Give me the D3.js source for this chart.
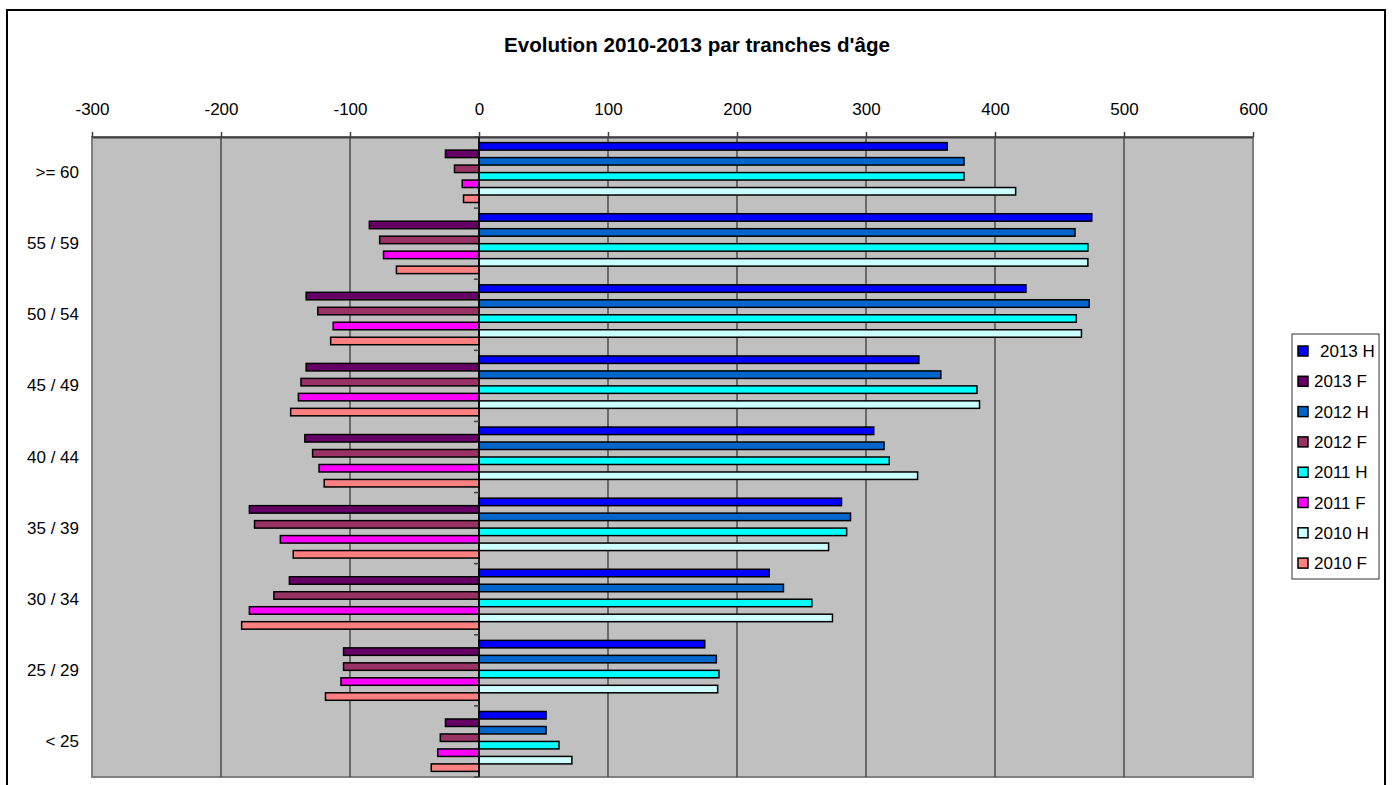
<!DOCTYPE html>
<html>
<head>
  <meta charset="utf-8">
  <title>Evolution 2010-2013 par tranches d'âge</title>
  <script src="https://cdn.jsdelivr.net/npm/d3@7/dist/d3.min.js"></script>
  <style>
    html, body { margin: 0; padding: 0; background: #fff; }
    svg { display: block; font-family: "Liberation Sans", Arial, sans-serif; }
    .title { font-size: 20.6px; font-weight: bold; fill: #000; }
    .axis text { font-size: 17px; fill: #000; }
    .cat { font-size: 17px; fill: #000; }
    .legend text { font-size: 17px; fill: #000; }
  </style>
</head>
<body>
<script>
  // age groups, top to bottom
  var categories = ['>= 60', '55 / 59', '50 / 54', '45 / 49', '40 / 44', '35 / 39', '30 / 34', '25 / 29', '< 25'];

  var seriesNames = ['2013 H', '2013 F', '2012 H', '2012 F', '2011 H', '2011 F', '2010 H', '2010 F'];
  var seriesColors = ['#0000FF', '#660066', '#0066CC', '#993366', '#00FFFF', '#FF00FF', '#CCFFFF', '#FF8080'];

  // values per age group (same order as categories); F values are negative
  var h2013 = [363, 475, 424, 341, 306, 281, 225, 175, 52];
  var f2013 = [-26, -85, -134, -134, -135, -178, -147, -105, -26];
  var h2012 = [376, 462, 473, 358, 314, 288, 236, 184, 52];
  var f2012 = [-19, -77, -125, -138, -129, -174, -159, -105, -30];
  var h2011 = [376, 472, 463, 386, 318, 285, 258, 186, 62];
  var f2011 = [-13, -74, -113, -140, -124, -154, -178, -107, -32];
  var h2010 = [416, 472, 467, 388, 340, 271, 274, 185, 72];
  var f2010 = [-12, -64, -115, -146, -120, -144, -184, -119, -37];

  var xTicks = [-300, -200, -100, 0, 100, 200, 300, 400, 500, 600];

  var seriesValues = [h2013, f2013, h2012, f2012, h2011, f2011, h2010, f2010];

  var width = 1392, height = 785;
  var plot = { left: 92, right: 1253, top: 137, bottom: 777 };

  var svg = d3.select('body').append('svg')
    .attr('width', width).attr('height', height);

  // chart frame (bottom edge falls outside the window)
  svg.append('rect')
    .attr('x', 7).attr('y', 10)
    .attr('width', 1378).attr('height', 800)
    .attr('fill', '#fff').attr('stroke', '#000').attr('stroke-width', 2);

  svg.append('text')
    .attr('class', 'title')
    .attr('x', 697).attr('y', 52)
    .attr('text-anchor', 'middle')
    .text("Evolution 2010-2013 par tranches d'âge");

  var x = d3.scaleLinear()
    .domain([xTicks[0], xTicks[xTicks.length - 1]])
    .range([plot.left, plot.right]);

  var y = d3.scaleBand()
    .domain(categories)
    .range([plot.top, plot.bottom])
    .padding(0);

  var ySub = d3.scaleBand()
    .domain(seriesNames)
    .range([0, y.bandwidth()])
    .paddingInner(0)
    .paddingOuter(0.75);

  // plot background
  svg.append('rect')
    .attr('x', plot.left).attr('y', plot.top)
    .attr('width', plot.right - plot.left).attr('height', plot.bottom - plot.top)
    .attr('fill', '#C0C0C0').attr('stroke', '#808080').attr('stroke-width', 2);

  // vertical gridlines
  svg.append('g').selectAll('line')
    .data(xTicks.slice(1, -1)).enter().append('line')
      .attr('x1', function (d) { return x(d); })
      .attr('x2', function (d) { return x(d); })
      .attr('y1', plot.top).attr('y2', plot.bottom)
      .attr('stroke', '#3a3a3a').attr('stroke-width', 1.3);

  // value axis on top (plain hyphen for negatives, like the original)
  var xAxis = svg.append('g')
    .attr('class', 'axis')
    .attr('transform', 'translate(0,' + plot.top + ')')
    .call(d3.axisTop(x).tickValues(xTicks)
      .tickFormat(function (d) { return String(d); })
      .tickSize(5).tickPadding(17).tickSizeOuter(0));
  xAxis.select('.domain').attr('stroke', '#404040').attr('stroke-width', 2);
  xAxis.selectAll('.tick line').attr('stroke', '#404040').attr('stroke-width', 1.5);
  xAxis.selectAll('.tick text')
    .attr('font-family', '"Liberation Sans", Arial, sans-serif')
    .attr('font-size', 17).attr('dy', 0);

  // bars
  var rows = [];
  categories.forEach(function (c, ci) {
    seriesNames.forEach(function (s, si) {
      rows.push({ cat: c, series: s, value: seriesValues[si][ci], color: seriesColors[si] });
    });
  });

  svg.append('g').selectAll('rect')
    .data(rows).enter().append('rect')
      .attr('x', function (d) { return x(Math.min(0, d.value)); })
      .attr('y', function (d) { return y(d.cat) + ySub(d.series); })
      .attr('width', function (d) { return Math.abs(x(d.value) - x(0)); })
      .attr('height', ySub.bandwidth())
      .attr('fill', function (d) { return d.color; })
      .attr('stroke', '#000').attr('stroke-width', 1.5);

  // category axis at zero
  var catAxis = svg.append('g');
  catAxis.append('line')
    .attr('x1', x(0)).attr('x2', x(0))
    .attr('y1', plot.top).attr('y2', plot.bottom)
    .attr('stroke', '#000').attr('stroke-width', 1.5);
  catAxis.selectAll('.ctick')
    .data(categories.concat(['__end'])).enter().append('line')
      .attr('class', 'ctick')
      .attr('x1', x(0) - 5).attr('x2', x(0))
      .attr('y1', function (d) { return d === '__end' ? plot.bottom : y(d); })
      .attr('y2', function (d) { return d === '__end' ? plot.bottom : y(d); })
      .attr('stroke', '#404040').attr('stroke-width', 1.5);

  // category labels (low position)
  svg.append('g').selectAll('text')
    .data(categories).enter().append('text')
      .attr('class', 'cat')
      .attr('x', plot.left - 13)
      .attr('y', function (d) { return y(d) + y.bandwidth() / 2; })
      .attr('dy', '0.33em')
      .attr('text-anchor', 'end')
      .text(function (d) { return d; });

  // legend
  var legend = svg.append('g').attr('class', 'legend');
  legend.append('rect')
    .attr('x', 1292).attr('y', 334)
    .attr('width', 87).attr('height', 245)
    .attr('fill', '#fff').attr('stroke', '#333').attr('stroke-width', 1);

  var item = legend.selectAll('.item')
    .data(seriesNames).enter().append('g')
      .attr('class', 'item')
      .attr('transform', function (d, i) { return 'translate(1298,' + (351 + i * 30.3) + ')'; });
  item.append('rect')
    .attr('x', 0).attr('y', -5)
    .attr('width', 10).attr('height', 10)
    .attr('fill', function (d, i) { return seriesColors[i]; })
    .attr('stroke', '#000').attr('stroke-width', 1.5);
  item.append('text')
    .attr('x', function (d, i) { return i === 0 ? 22 : 16; })
    .attr('dy', '0.36em')
    .text(function (d) { return d; });
</script>
</body>
</html>
